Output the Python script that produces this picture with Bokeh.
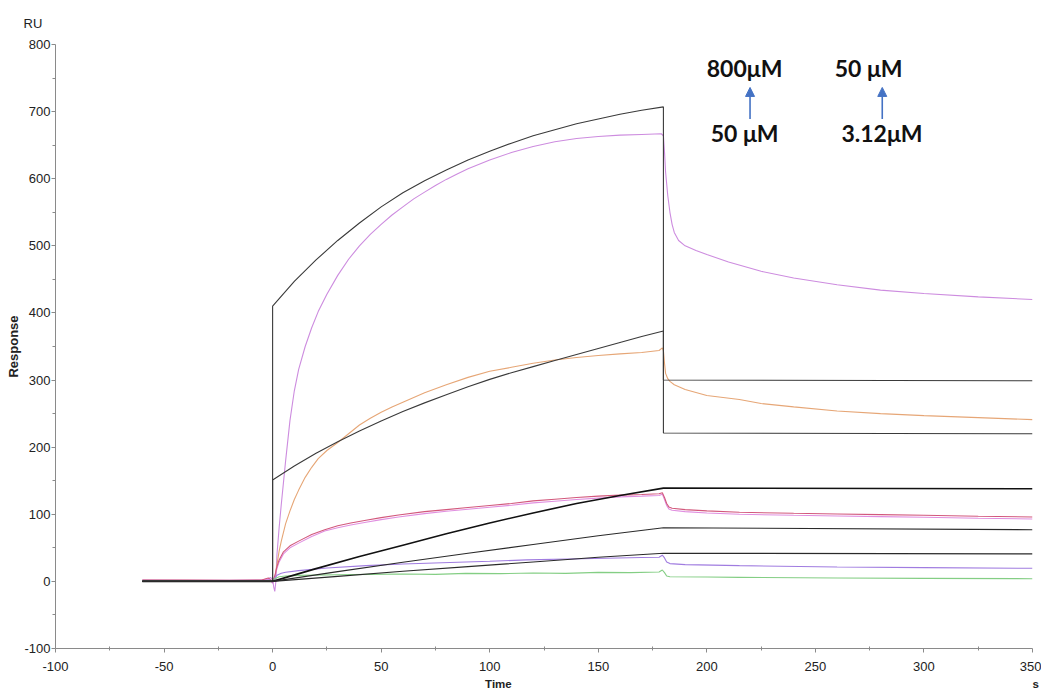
from bokeh.plotting import figure
from bokeh.models import FixedTicker, Label, Arrow, NormalHead, LinearAxis, Title
from bokeh.embed import file_html
from bokeh.resources import INLINE

# ---------------- data ----------------
x_ticks = [-100, -50, 0, 50, 100, 150, 200, 250, 300, 350]
y_ticks = [-100, 0, 100, 200, 300, 400, 500, 600, 700, 800]

mag_t = [-60, -40, -20, -5, -2, -1, 0, 0.5, 1, 1.5, 2, 3, 4, 6, 8, 10, 12, 15, 18, 21, 25, 30, 35, 40, 45, 50, 55,
         60, 65, 70, 75, 80, 85, 90, 100, 110, 120, 130, 140, 150, 160, 170, 179, 180, 180.5, 181, 182,
         183, 184, 185, 187, 190, 195, 200, 210, 225, 240, 260, 280, 300, 325, 350]
mag_y = [2, 1.5, 1.5, 2, 4, 6, 3, -8, -15, 0, 40, 80, 115, 180, 240, 284, 316, 350, 378, 402, 428, 456, 480, 500, 517, 532, 546,
         558, 570, 580, 590, 599, 607, 615, 628, 639, 648, 655, 660, 663, 665, 666, 667, 664, 640, 610, 575,
         550, 532, 520, 508, 500, 493, 487, 476, 462, 452, 442, 434, 429, 424, 420]

or_t = [-60, -40, -20, -5, -1, 0, 1, 2, 3, 4, 6, 8, 10, 12, 15, 18, 21, 25, 30, 35, 40, 45, 50, 55, 60, 70,
        80, 90, 100, 110, 120, 130, 140, 150, 160, 170, 178, 179.5, 180, 180.5, 181, 182, 183, 185, 190, 200,
        215, 225, 240, 260, 280, 300, 325, 350]
or_y = [1, 1, 0.5, 1, 2, 0, 5, 25, 45, 60, 86, 105, 122, 136, 155, 170, 183, 195, 207, 220, 233, 243, 252, 260, 267, 281,
        293, 304, 313, 319, 325, 330, 333.5, 336.5, 339, 341, 344, 348, 344, 325, 310, 302, 298, 293, 286, 277,
        271, 265, 260, 254, 250, 247, 244, 241]

red_t = [-60, -40, -20, -5, -2, -1, 0, 1, 2, 3, 5, 8, 12, 18, 24, 30, 36, 43, 50, 58, 70, 80, 90, 100, 110, 120, 130,
         140, 150, 160, 170, 178, 179.5, 180.5, 181.5, 182.5, 184, 190, 200, 215, 240, 260, 280, 300, 325, 350]
red_y = [2, 2, 1.5, 2, 5, 3, 0, 8, 22, 32, 44, 53, 60, 70, 77, 83, 87, 91, 95, 99, 104, 107, 110, 113, 116, 120, 122.5,
         125, 127, 128.5, 129.5, 130.5, 132, 125, 116, 111, 109, 107, 105, 103, 101.5, 100.5, 99.5, 98.5, 97, 96]

pk_t = red_t
pk_y = [1, 1, 1, 1.5, 3, 2, -3, 6, 19, 29, 41, 50, 57, 67, 75, 80, 84, 88, 92, 96, 101, 104.5, 107.5, 110.5, 113.5, 117, 119.5,
        122, 124, 126, 127, 128, 130, 122, 113, 108, 106, 104, 102, 100, 98.5, 97.5, 96.5, 95.5, 94, 93]

pu_t = [-60, -40, -20, -5, -1, 0, 1, 2, 4, 6, 12, 25, 43, 60, 89, 100, 117, 148, 170, 178, 179.5, 180.5, 181.5, 183,
        190, 215, 260, 300, 350]
pu_y = [1, 1, 0.5, 1, 2, 0, 5, 9, 12, 13.5, 16, 20, 23.5, 26, 29, 30, 32, 34, 35.5, 36, 39, 35, 29, 26.5,
        25, 23.5, 21.5, 20.5, 19.5]

gr_t = [-60, -40, -20, -5, -1, 0, 1, 3, 6, 12, 30, 45, 60, 75, 89, 105, 120, 135, 150, 165, 178, 179.5, 180.5, 181.5,
        183, 200, 215, 260, 300, 350]
gr_y = [0.5, 0.5, 0, 0.5, 1, 0, 4, 7, 8, 9, 10, 10.5, 11, 10.5, 12, 11.5, 12.5, 12, 13.5, 13, 14, 17, 13, 8,
        7, 6.5, 6, 5, 4.5, 4]

fit1_t = [-60, 0, 0, 10, 20, 30, 40, 50, 60, 70, 80, 90, 100, 110, 120, 130, 140, 150, 160, 170, 180, 180, 350]
fit1_y = [0, 0, 410, 447, 479, 508, 534, 558, 579, 597, 613, 628, 641, 653, 664, 673, 682, 689, 696, 702, 707, 300, 299]
fit2_t = [-60, 0, 0, 10, 20, 30, 40, 50, 60, 70, 80, 90, 100, 110, 120, 130, 140, 150, 160, 170, 180, 180, 350]
fit2_y = [0, 0, 151, 172, 191, 208, 224, 239, 253, 266, 278, 290, 301, 311, 320, 329, 338, 347, 356, 365, 373, 221, 220]
fit3_t = [-60, 0, 20, 40, 60, 80, 100, 120, 140, 160, 180, 350]
fit3_y = [0, 0, 19, 37, 54, 71, 87, 102, 116, 128, 139, 138]
fit4_t = [-60, 0, 30, 60, 90, 120, 150, 180, 350]
fit4_y = [0, 0, 14.5, 28.5, 42, 55, 68, 80, 77]
fit5_t = [-60, 0, 30, 60, 90, 120, 150, 180, 350]
fit5_y = [0, 0, 7.5, 15, 22, 29, 36, 42, 41]

conc_labels = ["800\u03bcM", "50 \u03bcM", "50 \u03bcM", "3.12\u03bcM"]

# ---------------- figure ----------------
p = figure(width=1041, height=694, x_range=(-100, 350), y_range=(-100, 800),
           output_backend="svg", toolbar_location=None,
           min_border_left=55, min_border_right=9, min_border_top=43, min_border_bottom=46)
p.xgrid.visible = False
p.ygrid.visible = False
p.outline_line_color = None
p.background_fill_color = "white"
p.border_fill_color = "white"

p.xaxis.ticker = FixedTicker(ticks=x_ticks, minor_ticks=[v + 25 for v in x_ticks[:-1]])
p.yaxis.ticker = FixedTicker(ticks=y_ticks, minor_ticks=[v + 50 for v in y_ticks[:-1]])
p.xaxis.major_label_overrides = {-100: "-100", -50: "-50"}
p.yaxis.major_label_overrides = {-100: "-100"}

axcol = "#8a8a8a"
tick_font = "Liberation Sans"
for ax in (p.xaxis[0], p.yaxis[0]):
    ax.axis_line_color = axcol
    ax.major_tick_line_color = axcol
    ax.minor_tick_line_color = axcol
    ax.major_tick_out = 4
    ax.major_tick_in = 0
    ax.major_label_text_font = tick_font
    ax.major_label_text_font_size = "13px"
    ax.major_label_text_color = "#222222"
p.yaxis.minor_tick_out = 3
p.yaxis.minor_tick_in = 0
p.xaxis.minor_tick_out = 2
p.xaxis.minor_tick_in = 2
p.yaxis.major_label_standoff = 1
p.xaxis.major_label_standoff = 9

p.yaxis.axis_label = "Response"
p.yaxis.axis_label_text_font = "Liberation Sans"
p.yaxis.axis_label_text_font_style = "bold"
p.yaxis.axis_label_text_font_size = "13px"
p.yaxis.axis_label_text_color = "#222222"
p.yaxis.axis_label_standoff = 0

# second bottom axis carrying the "Time" and "s" captions
cap_axis = LinearAxis(ticker=FixedTicker(ticks=[104, 350]),
                      major_label_overrides={104: "Time", 350: "\u00a0\u00a0s"},
                      axis_line_color=None, major_tick_line_color=None, minor_tick_line_color=None,
                      major_tick_out=0, major_tick_in=0, minor_tick_out=0, minor_tick_in=0,
                      major_label_standoff=4, major_label_text_font="Liberation Sans",
                      major_label_text_font_style="bold", major_label_text_font_size="11.5px",
                      major_label_text_color="#222222")
p.add_layout(cap_axis, "below")

# "RU" unit caption above the y axis
p.add_layout(Title(text="RU", align="left", offset=-32, standoff=27, text_font=tick_font,
                   text_font_size="13px", text_font_style="normal", text_color="#222222"), "above")

# data curves
p.line(mag_t, mag_y, line_color="#CD8CDF", line_width=1.1)
p.line(or_t, or_y, line_color="#E6A676", line_width=1.1)
p.line(pk_t, pk_y, line_color="#E08FE0", line_width=1.1)
p.line(red_t, red_y, line_color="#D2587C", line_width=1.1)
p.line(pu_t, pu_y, line_color="#A07CE0", line_width=1.1)
p.line(gr_t, gr_y, line_color="#84CE84", line_width=1.1)

# fits
p.line(fit1_t, fit1_y, line_color="#3a3a3a", line_width=1.1)
p.line(fit2_t, fit2_y, line_color="#3a3a3a", line_width=1.1)
p.line(fit3_t, fit3_y, line_color="#111111", line_width=1.6)
p.line(fit4_t, fit4_y, line_color="#2a2a2a", line_width=1.1)
p.line(fit5_t, fit5_y, line_color="#2a2a2a", line_width=1.1)

# concentration annotations
blue = "#4472C4"
for xx in (219.9, 280.8):
    p.add_layout(Arrow(end=NormalHead(size=9, fill_color=blue, line_color=blue, line_width=1),
                       x_start=xx, y_start=689, x_end=xx, y_end=736,
                       line_color=blue, line_width=1.6))
for txt, xx, yy in zip(conc_labels, [217.4, 217.4, 274.5, 280.7], [765, 668.6, 765, 668.6]):
    p.add_layout(Label(x=xx, y=yy, text=txt, text_align="center", text_baseline="middle",
                       text_font="Lato", text_font_style="bold", text_font_size="23px",
                       text_color="#111111"))

open("out.html", "w").write(file_html(p, INLINE))
